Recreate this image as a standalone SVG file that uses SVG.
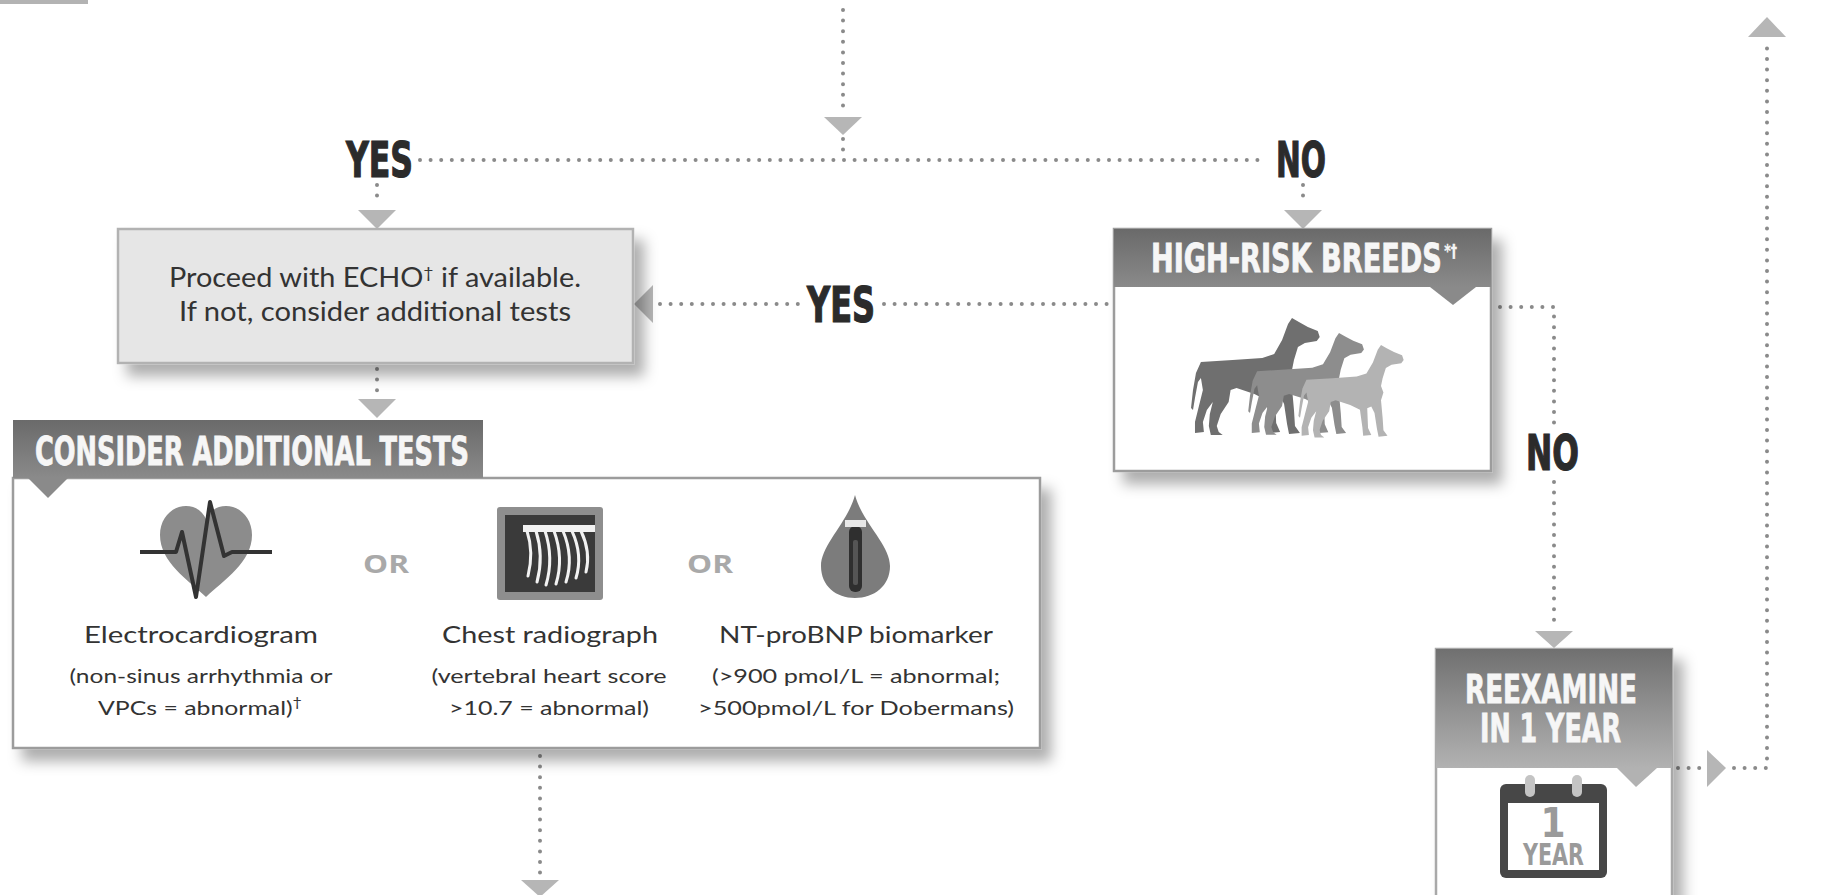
<svg xmlns="http://www.w3.org/2000/svg" width="1822" height="895" viewBox="0 0 1822 895">
  <defs>
    <style>
      .dots { fill: none; stroke: #8a8a8a; stroke-width: 4; stroke-linecap: round; stroke-dasharray: 0 10.6; }
      .head { fill: #b6b6b6; }
      .cond { font-family: "Liberation Sans Narrow", "DejaVu Sans Condensed", Roboto, sans-serif; font-weight: 700; }
      .label { fill: #2b2b2b; stroke: #2b2b2b; stroke-width: 1.2; font-size: 50px; }
      .tab { fill: #f6f6f6; stroke: #f6f6f6; stroke-width: 0.8; font-size: 39px; }
      .body { font-family: Lato, "Open Sans", sans-serif; fill: #333; }
      .t1 { font-size: 26px; }
      .t2 { font-size: 24px; }
      .t3 { font-size: 20px; }
      .or { font-family: "Open Sans", Lato, sans-serif; font-weight: 700; font-size: 25px; fill: #a9a9a9; }
    </style>
    <filter id="shadow" x="-10%" y="-10%" width="130%" height="145%">
      <feDropShadow dx="10" dy="12" stdDeviation="7" flood-color="#000" flood-opacity="0.32"/>
    </filter>
    <linearGradient id="hdrA" x1="0" y1="0" x2="0" y2="1">
      <stop offset="0" stop-color="#6a6a6a"/>
      <stop offset="1" stop-color="#8a8a8a"/>
    </linearGradient>
    <linearGradient id="hdrB" x1="0" y1="0" x2="0" y2="1">
      <stop offset="0" stop-color="#707070"/>
      <stop offset="1" stop-color="#b2b2b2"/>
    </linearGradient>
    <!-- standing great dane silhouette, facing right, about 128 x 117 -->
    <path id="dog" d="M100 0 L107 4 L116 9 L126 13 L128 19 L125 23 L113 25 L106 29 L102 42 L100 52 L103 60 L100 70 L102 92 L103 108 L108 115 L97 116 L95 106 L92 86 L88 78 L83 80 L84 105 L88 114 L78 115 L77 104 L74 82 L62 76 L44 70 L38 72 L36 84 L28 96 L24 108 L26 114 L30 117 L18 117 L16 108 L17 96 L20 84 L14 92 L10 104 L11 114 L2 115 L2 104 L6 88 L10 72 L8 60 L5 64 L2 80 L0 92 L-2 90 L0 72 L3 55 L8 44 L40 42 L70 40 L82 36 L90 22 L96 6 Z"/>
  </defs>

  <rect x="0" y="0" width="88" height="4" fill="#b3b3b3"/>

  <!-- connectors -->
  <g id="connectors">
    <path class="dots" d="M843 10 V112"/>
    <polygon class="head" points="824,117 862,117 843,135"/>
    <path class="dots" d="M843 139 V160"/>
    <path class="dots" d="M420 160 H1268"/>

    <path class="dots" d="M377 185 V206"/>
    <polygon class="head" points="358,210 396,210 377,229"/>

    <path class="dots" d="M1303 185 V206"/>
    <polygon class="head" points="1284,210 1322,210 1303,229"/>

    <path class="dots" d="M377 369 V394"/>
    <polygon class="head" points="358,399 396,399 377,418"/>

    <path class="dots" d="M660 304 H800"/>
    <path class="dots" d="M884 304 H1111"/>
    <polygon class="head" points="653,285 653,323 634,304"/>

    <path class="dots" d="M1500 307 H1554 V426"/>
    <path class="dots" d="M1554 482 V626"/>
    <polygon class="head" points="1535,631 1573,631 1554,648"/>

    <path class="dots" d="M540 756 V876"/>
    <polygon class="head" points="521,880 559,880 540,897"/>

    <path class="dots" d="M1678 768 H1700"/>
    <polygon class="head" points="1707,750 1707,787 1726,768"/>
    <path class="dots" d="M1734 768 H1767 V42"/>
    <polygon class="head" points="1748,37 1786,37 1767,17"/>
  </g>

  <!-- branch labels -->
  <g id="labels">
    <text class="cond label" x="346" y="177" textLength="67" lengthAdjust="spacingAndGlyphs">YES</text>
    <text class="cond label" x="1276" y="177" textLength="50" lengthAdjust="spacingAndGlyphs">NO</text>
    <text class="cond label" x="807" y="322" textLength="68" lengthAdjust="spacingAndGlyphs">YES</text>
    <text class="cond label" x="1526" y="470" textLength="53" lengthAdjust="spacingAndGlyphs">NO</text>
  </g>

  <!-- echo step -->
  <g id="node-echo">
    <rect x="118" y="229" width="515" height="134" fill="#e6e6e6" stroke="#b2b2b2" stroke-width="2.5" filter="url(#shadow)"/>
    <text class="body t1" x="169" y="287" textLength="412" lengthAdjust="spacingAndGlyphs">Proceed with ECHO<tspan font-size="16" dy="-9">†</tspan><tspan dy="9"> if available.</tspan></text>
    <text class="body t1" x="179" y="321" textLength="392" lengthAdjust="spacingAndGlyphs">If not, consider additional tests</text>
  </g>

  <!-- additional tests -->
  <g id="node-tests">
    <rect x="13" y="478" width="1027" height="270" fill="#ffffff" stroke="#9c9c9c" stroke-width="2.5" filter="url(#shadow)"/>
    <rect x="13" y="420" width="470" height="58" fill="url(#hdrA)"/>
    <polygon points="28,478 68,478 48,498" fill="#8a8a8a"/>
    <text class="cond tab" x="35" y="465" textLength="434" lengthAdjust="spacingAndGlyphs">CONSIDER ADDITIONAL TESTS</text>

    <!-- ECG icon -->
    <path d="M206 597 C188 580 160 562 160 535 C160 518 172 506 186 506 C196 506 203 512 206 519 C209 512 216 506 226 506 C240 506 252 518 252 535 C252 562 224 580 206 597 Z" fill="#8c8c8c"/>
    <polyline points="140,552 176,552 182,532 196,597 210,502 224,556 232,552 272,552" fill="none" stroke="#333" stroke-width="4" stroke-linejoin="round"/>
    <text class="or" x="363" y="573" textLength="46" lengthAdjust="spacingAndGlyphs">OR</text>

    <!-- radiograph icon -->
    <rect x="497" y="507" width="106" height="93" rx="3" fill="#8e8e8e"/>
    <rect x="505" y="515" width="90" height="77" fill="#3a3a3a"/>
    <rect x="523" y="525" width="72" height="7" fill="#f2f2f2"/>
    <g fill="none" stroke="#f2f2f2" stroke-width="3" stroke-linecap="round">
      <path d="M527 531 Q534 552 528 576"/>
      <path d="M536 531 Q544 556 537 582"/>
      <path d="M545 531 Q554 558 546 585"/>
      <path d="M554 531 Q564 558 556 584"/>
      <path d="M563 531 Q574 557 566 582"/>
      <path d="M572 531 Q583 555 576 578"/>
      <path d="M581 531 Q591 552 586 572"/>
    </g>
    <text class="or" x="687" y="573" textLength="46" lengthAdjust="spacingAndGlyphs">OR</text>

    <!-- biomarker icon -->
    <path d="M855 495 C862 522 890 545 890 566 C890 586 874 598 855 598 C836 598 821 586 821 566 C821 545 848 522 855 495 Z" fill="#7c7c7c"/>
    <rect x="849" y="526" width="13" height="66" rx="6" fill="#2f2f2f"/>
    <rect x="853" y="540" width="5" height="45" rx="2" fill="#555"/>
    <rect x="845" y="520" width="21" height="7" fill="#e8e8e8"/>

    <text class="body t2" x="201" y="643" text-anchor="middle" textLength="234" lengthAdjust="spacingAndGlyphs">Electrocardiogram</text>
    <text class="body t3" x="201" y="683" text-anchor="middle" textLength="263" lengthAdjust="spacingAndGlyphs">(non-sinus arrhythmia or</text>
    <text class="body t3" x="200" y="715" text-anchor="middle" textLength="204" lengthAdjust="spacingAndGlyphs">VPCs = abnormal)<tspan font-size="13" dy="-8">†</tspan></text>

    <text class="body t2" x="550" y="643" text-anchor="middle" textLength="216" lengthAdjust="spacingAndGlyphs">Chest radiograph</text>
    <text class="body t3" x="549" y="683" text-anchor="middle" textLength="235" lengthAdjust="spacingAndGlyphs">(vertebral heart score</text>
    <text class="body t3" x="549" y="715" text-anchor="middle" textLength="200" lengthAdjust="spacingAndGlyphs">&gt;10.7 = abnormal)</text>

    <text class="body t2" x="856" y="643" text-anchor="middle" textLength="274" lengthAdjust="spacingAndGlyphs">NT-proBNP biomarker</text>
    <text class="body t3" x="856" y="683" text-anchor="middle" textLength="288" lengthAdjust="spacingAndGlyphs">(&gt;900 pmol/L = abnormal;</text>
    <text class="body t3" x="856" y="715" text-anchor="middle" textLength="316" lengthAdjust="spacingAndGlyphs">&gt;500pmol/L for Dobermans)</text>
  </g>

  <!-- high-risk breeds -->
  <g id="node-breeds">
    <rect x="1114" y="229" width="377" height="242" fill="#ffffff" stroke="#9c9c9c" stroke-width="2.5" filter="url(#shadow)"/>
    <rect x="1114" y="229" width="377" height="58" fill="url(#hdrA)"/>
    <polygon points="1430,287 1476,287 1453,305" fill="#8a8a8a"/>
    <text class="cond tab" x="1151" y="272" textLength="306" lengthAdjust="spacingAndGlyphs">HIGH-RISK BREEDS<tspan font-size="18" stroke-width="0.3" dx="3" dy="-15">*†</tspan></text>
    <use href="#dog" transform="translate(1193 318) scale(0.99 1.0)" fill="#6f6f6f"/>
    <use href="#dog" transform="translate(1250 333) scale(0.89 0.87)" fill="#8d8d8d"/>
    <use href="#dog" transform="translate(1300 345) scale(0.81 0.79)" fill="#b3b3b3"/>
  </g>

  <!-- reexamine -->
  <g id="node-reexamine">
    <rect x="1436" y="649" width="236" height="260" fill="#ffffff" stroke="#a8a8a8" stroke-width="2.5" filter="url(#shadow)"/>
    <rect x="1436" y="649" width="236" height="119" fill="url(#hdrB)"/>
    <polygon points="1617,768 1657,768 1636,787" fill="#b2b2b2"/>
    <text class="cond tab" font-size="37"><tspan x="1465" y="703" textLength="172" lengthAdjust="spacingAndGlyphs">REEXAMINE</tspan><tspan x="1480" y="742" textLength="141" lengthAdjust="spacingAndGlyphs">IN 1 YEAR</tspan></text>
    <!-- calendar icon -->
    <rect x="1500" y="784" width="107" height="94" rx="6" fill="#474747"/>
    <rect x="1508" y="803" width="91" height="67" fill="#ffffff"/>
    <rect x="1525" y="775" width="10" height="22" rx="5" fill="#c4c4c4"/>
    <rect x="1572" y="775" width="10" height="22" rx="5" fill="#c4c4c4"/>
    <text class="cond" fill="#9a9a9a"><tspan x="1553" y="837" text-anchor="middle" font-size="40">1</tspan><tspan x="1523" y="865" font-size="30" textLength="61" lengthAdjust="spacingAndGlyphs">YEAR</tspan></text>
  </g>
</svg>
